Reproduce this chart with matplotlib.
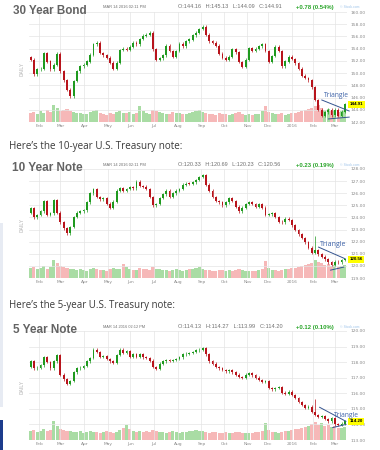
import numpy as np
import pandas as pd
import matplotlib
matplotlib.use('Agg')
import matplotlib.pyplot as plt
import matplotlib.transforms as mtransforms
from matplotlib.patches import Rectangle
from pandas.tseries.holiday import USFederalHolidayCalendar
from pandas.tseries.offsets import CustomBusinessDay

# ---------------- data ----------------
start_date = '2015-01-21'
end_date = '2016-03-14'

bond30_open0 = 152.6
bond30_close = [152.2, 149.8, 150.6, 150.7, 153.3, 151.9, 150.6, 151.4, 153.2, 150.3,
                148.8, 147.3, 146.2, 148.7, 150.3, 151.1, 151.4, 151.9, 153.0, 154.7,
                155.0, 153.3, 152.9, 152.5, 151.7, 150.7, 151.7, 153.8, 154.0, 153.8,
                154.3, 155.0, 154.7, 155.6, 156.1, 156.3, 156.6, 153.9, 152.2, 152.4,
                152.9, 154.5, 153.6, 152.7, 153.6, 154.8, 154.4, 155.2, 155.5, 156.2,
                156.6, 157.2, 157.6, 156.3, 155.2, 155.0, 154.5, 153.2, 152.5, 152.2,
                152.7, 153.9, 153.4, 151.8, 151.0, 152.2, 154.1, 153.6, 154.0, 154.4,
                154.7, 153.6, 151.8, 152.8, 154.3, 153.6, 151.1, 151.9, 152.7, 152.3,
                151.6, 150.7, 149.6, 149.2, 148.8, 147.7, 145.6, 144.0, 143.0, 143.6,
                144.0, 143.1, 144.0, 143.0, 143.7, 144.91]
bond30_vol = [45, 50, 40, 55, 48, 60, 52, 85, 70, 55,
              60, 65, 58, 50, 45, 48, 42, 40, 50, 55,
              60, 45, 40, 38, 45, 42, 50, 55, 48, 45,
              50, 42, 48, 80, 55, 45, 40, 60, 55, 50,
              45, 40, 42, 50, 45, 48, 40, 42, 45, 50,
              55, 60, 50, 45, 42, 40, 38, 45, 40, 42,
              38, 40, 45, 50, 42, 38, 40, 36, 40, 42,
              55, 80, 50, 45, 42, 40, 45, 38, 42, 45,
              48, 50, 55, 60, 65, 70, 80, 85, 70, 60,
              65, 55, 60, 50, 55, 60]
bond30_ticks = [142, 144, 146, 148, 150, 152, 154, 156, 158, 160]
bond30_spikes = {}

note10_open0 = 124.4
note10_close = [124.75, 124.0, 124.2, 124.5, 125.35, 124.2, 124.35, 125.4, 124.4, 123.6,
                123.1, 122.7, 123.2, 124.05, 124.4, 124.5, 124.6, 125.25, 126.0, 126.35,
                125.7, 125.5, 125.6, 125.15, 124.8, 125.3, 126.2, 126.4, 126.2, 126.35,
                126.5, 126.4, 126.95, 126.6, 126.55, 126.35, 125.7, 125.0, 125.1, 125.6,
                125.9, 126.2, 125.7, 126.0, 126.2, 126.35, 126.7, 126.8, 126.75, 126.9,
                127.1, 127.35, 127.5, 126.7, 126.2, 125.7, 125.35, 125.25, 125.0, 125.25,
                125.6, 125.35, 124.9, 124.5, 124.8, 125.1, 125.25, 125.1, 124.9, 125.1,
                124.8, 124.2, 124.25, 124.35, 124.05, 123.65, 123.6, 123.9, 123.8, 123.35,
                122.95, 122.6, 122.3, 121.95, 121.5, 121.1, 121.3, 120.95, 120.75, 120.55,
                120.3, 120.1, 120.35, 120.3, 120.5, 120.56]
note10_vol = [50, 55, 45, 50, 60, 48, 55, 95, 75, 60,
              55, 50, 45, 48, 42, 45, 40, 38, 45, 50,
              48, 42, 40, 38, 45, 50, 45, 48, 70, 55,
              45, 40, 42, 50, 48, 45, 40, 55, 48, 45,
              42, 40, 38, 42, 45, 40, 38, 42, 45, 48,
              50, 55, 48, 42, 40, 38, 36, 40, 42, 38,
              40, 38, 42, 45, 40, 36, 38, 35, 38, 40,
              45, 85, 50, 42, 40, 38, 42, 45, 48, 50,
              52, 55, 60, 65, 70, 75, 95, 80, 75, 65,
              70, 60, 68, 55, 60, 65]
note10_ticks = [119, 120, 121, 122, 123, 124, 125, 126, 127, 128]
note10_spikes = {86: 122.5}

note5_open0 = 117.7
note5_close = [118.05, 117.6, 117.65, 117.8, 118.3, 118.0, 117.6, 118.05, 118.45, 117.2,
               116.9, 116.6, 116.8, 117.35, 117.6, 117.65, 117.75, 118.05, 118.25, 118.8,
               118.65, 118.35, 118.4, 118.2, 118.05, 117.95, 118.45, 118.8, 118.6, 118.7,
               118.35, 118.5, 118.35, 118.5, 118.3, 118.25, 118.1, 117.7, 117.55, 117.9,
               118.05, 118.15, 118.1, 118.15, 118.2, 118.3, 118.5, 118.55, 118.6, 118.65,
               118.75, 118.8, 118.9, 118.5, 118.05, 117.9, 117.7, 117.6, 117.5, 117.4,
               117.5, 117.35, 117.2, 117.05, 117.0, 117.2, 117.3, 117.15, 117.0, 116.85,
               116.75, 116.8, 116.35, 116.25, 116.35, 116.4, 116.05, 115.95, 116.1, 115.9,
               115.7, 115.45, 115.25, 115.05, 115.15, 114.8, 114.6, 114.5, 114.55, 114.35,
               114.2, 114.4, 114.0, 113.95, 114.05, 114.2]
note5_vol = [45, 50, 42, 48, 55, 45, 52, 100, 70, 55,
             50, 45, 48, 42, 40, 45, 38, 40, 45, 42,
             40, 38, 42, 45, 40, 38, 42, 50, 60, 75,
             55, 45, 42, 48, 40, 45, 40, 50, 45, 42,
             40, 38, 42, 45, 40, 38, 42, 40, 45, 48,
             50, 48, 45, 40, 38, 42, 40, 38, 36, 40,
             38, 36, 40, 42, 38, 36, 35, 38, 40, 42,
             48, 85, 50, 42, 40, 38, 42, 45, 48, 52,
             55, 58, 62, 68, 72, 80, 90, 78, 85, 70,
             75, 65, 70, 60, 62, 68]
note5_ticks = [113, 114, 115, 116, 117, 118, 119, 120]
note5_spikes = {86: 115.65}

titles = ["30 Year Bond", "10 Year Note", "5 Year Note"]
stamps = ["MAR 14 2016 02:11 PM", "MAR 14 2016 02:11 PM", "MAR 14 2016 02:12 PM"]
ohlc_texts = ["O:144.16   H:145.13   L:144.09   C:144.91",
              "O:120.33   H:120.69   L:120.23   C:120.56",
              "O:114.13   H:114.27   L:113.99   C:114.20"]
changes = ["+0.78 (0.54%)", "+0.23 (0.19%)", "+0.12 (0.10%)"]
sentences = ["Here\u2019s the 10-year U.S. Treasury note:",
             "Here\u2019s the 5-year U.S. Treasury note:"]

# triangle annotations: (date, price) pairs
tri30 = dict(upper=[('2016-02-11', 145.6), ('2016-03-18', 143.8)],
             lower=[('2016-02-22', 142.5), ('2016-03-18', 142.8)],
             label=('2016-02-16', 146.4))
tri10 = dict(upper=[('2016-02-08', 121.55), ('2016-03-14', 120.6)],
             lower=[('2016-02-24', 119.65), ('2016-03-11', 119.9)],
             label=('2016-02-09', 121.75))
tri5 = dict(upper=[('2016-02-09', 115.1), ('2016-03-15', 114.2)],
            lower=[('2016-02-26', 113.8), ('2016-03-15', 114.0)],
            label=('2016-02-29', 114.6))

# ---------------- layout ----------------
W, H = 380, 450
fig = plt.figure(figsize=(W / 100, H / 100), dpi=100)
fig.patch.set_facecolor('white')
renderer = fig.canvas.get_renderer()


def fx(px):
    return px / W


def fy(py):
    return 1 - py / H


def fit_text(s, x0, x1, yc, family, weight='normal', color='#333333'):
    t = fig.text(fx(x0), fy(yc), s, fontsize=10, family=family, fontweight=weight,
                 color=color, ha='left', va='center')
    w = t.get_window_extent(renderer).width
    t.set_fontsize(10 * (x1 - x0) / w)
    return t


bday = CustomBusinessDay(calendar=USFederalHolidayCalendar())
cal = pd.date_range(start_date, '2016-03-31', freq=bday)
n_days = int(cal.searchsorted(pd.Timestamp(end_date))) + 1
days = cal[:n_days]
periods = days.to_period('M')
month_pos, month_lab = [], []
for i in range(1, n_days):
    if periods[i] != periods[i - 1]:
        month_pos.append(i)
        month_lab.append('2016' if days[i].month == 1 else days[i].strftime('%b'))


def tpos(d):
    return float(cal.searchsorted(pd.Timestamp(d)))


UP, DOWN = '#1f9a1f', '#b8141c'
VUP, VDOWN = '#a9dca4', '#f6b8b8'
TRI = '#34548f'

panels = [
    dict(open0=bond30_open0, close=bond30_close, vol=bond30_vol, ticks=bond30_ticks,
         spikes=bond30_spikes, tri=tri30, top=12, bottom=122, pad=0.22,
         title_x=(13, 87), title_y=11.5, head_y=7, tri_x=(323, 348)),
    dict(open0=note10_open0, close=note10_close, vol=note10_vol, ticks=note10_ticks,
         spikes=note10_spikes, tri=tri10, top=169, bottom=278, pad=0.11,
         title_x=(12, 82), title_y=168, head_y=165, tri_x=(319, 345)),
    dict(open0=note5_open0, close=note5_close, vol=note5_vol, ticks=note5_ticks,
         spikes=note5_spikes, tri=tri5, top=331, bottom=440, pad=0.08,
         title_x=(13, 77), title_y=330, head_y=327, tri_x=(333, 358)),
]

left_px, right_px = 29, 347

# page decorations on the left edge
fig.add_artist(Rectangle((0, fy(407)), fx(2.5), (407 - 223) / H, transform=fig.transFigure,
                         facecolor='#e7ebf3', edgecolor='none'))
fig.add_artist(Rectangle((0, fy(450)), fx(3), (450 - 420) / H, transform=fig.transFigure,
                         facecolor='#1d3c8c', edgecolor='none'))

for p_i, P in enumerate(panels):
    rect = [fx(left_px), fy(P['bottom']), (right_px - left_px) / W, (P['bottom'] - P['top']) / H]
    closes = np.array(P['close'], dtype=float)
    opens = np.concatenate([[P['open0']], closes[:-1]])
    n = len(closes)
    pos = np.linspace(0, n_days - 1, n)
    step = pos[1] - pos[0]
    up = closes >= opens
    highs = np.maximum(opens, closes) + P['pad']
    lows = np.minimum(opens, closes) - P['pad']
    for k, v in P['spikes'].items():
        highs[k] = v
    xlim = (-1.5, n_days + 1.0)
    ylim = (P['ticks'][0], P['ticks'][-1])

    # volume (behind)
    axv = fig.add_axes(rect)
    axv.set_xlim(*xlim)
    axv.set_ylim(0, 560)
    axv.axis('off')
    axv.bar(pos, P['vol'], width=step * 0.92, color=[VUP if u else VDOWN for u in up],
            edgecolor='none')

    # price axis
    ax = fig.add_axes(rect)
    ax.patch.set_visible(False)
    ax.set_xlim(*xlim)
    ax.set_ylim(*ylim)
    for s in ax.spines.values():
        s.set_visible(False)
    ax.set_axisbelow(True)
    ax.grid(True, color='#e4e4e4', lw=0.5)
    ax.yaxis.tick_right()
    ax.set_yticks(P['ticks'])
    ax.set_yticklabels([f"{t:.2f}" for t in P['ticks']])
    ax.set_xticks(month_pos)
    ax.set_xticklabels(month_lab)
    ax.tick_params(axis='y', length=0, pad=2.2, labelsize=3.2, labelcolor='#8a8a8a')
    ax.tick_params(axis='x', length=0, pad=1.2, labelsize=3.2, labelcolor='#8a8a8a')

    ax.vlines(pos, lows, highs, colors=[UP if u else DOWN for u in up], lw=0.5, zorder=3)
    body_bottom = np.minimum(opens, closes)
    body_h = np.maximum(np.abs(closes - opens), (ylim[1] - ylim[0]) * 0.006)
    ax.bar(pos, body_h, bottom=body_bottom, width=step * 0.55,
           color=[UP if u else DOWN for u in up], edgecolor='none', zorder=4)

    # last price label
    trans = mtransforms.blended_transform_factory(ax.transAxes, ax.transData)
    ax.text(1.0 + 2.5 / (right_px - left_px), closes[-1], f"{closes[-1]:.2f}", transform=trans,
            fontsize=3.2, fontweight='bold', color='black', ha='left', va='center',
            family='Liberation Sans',
            bbox=dict(boxstyle='square,pad=0.35', facecolor='#ffff00', edgecolor='none'),
            zorder=6, clip_on=False)

    # triangle annotation
    tri = P['tri']
    for key in ('upper', 'lower'):
        (d0, p0), (d1, p1) = tri[key]
        ax.plot([tpos(d0), tpos(d1)], [p0, p1], color=TRI, lw=0.7, clip_on=False, zorder=5)
    ld, lp = tri['label']
    tt = ax.text(tpos(ld), lp, "Triangle", fontsize=10, family='Open Sans', color='#3d62a8',
                 ha='left', va='center', clip_on=False, zorder=6)
    w = tt.get_window_extent(renderer).width
    tt.set_fontsize(10 * (P['tri_x'][1] - P['tri_x'][0]) / w)

    # DAILY label
    fig.text(fx(22), fy((P['top'] + P['bottom']) / 2 + 2), "DAILY", rotation=90, fontsize=3.4,
             fontweight='bold', color='#c8c8c8', ha='center', va='center', family='Liberation Sans')

    # title & header
    fit_text(titles[p_i], P['title_x'][0], P['title_x'][1], P['title_y'], 'Liberation Sans',
             weight='bold', color='#636363')
    hy = P['head_y']
    fit_text(stamps[p_i], 103, 145, hy, 'Liberation Sans', color='#707070')
    fit_text(ohlc_texts[p_i], 178, 280, hy, 'Liberation Sans', color='#707070')
    fit_text(changes[p_i], 296, 334, hy, 'Liberation Sans', weight='bold', color='#2aa52a')
    fit_text("\u00a9 Stock.com", 340, 359, hy, 'Liberation Sans', color='#9cc3ea')

# sentences between charts
fit_text(sentences[0], 9, 182, 146, 'Open Sans', color='#3a3a3a')
fit_text(sentences[1], 9, 174, 305.5, 'Open Sans', color='#3a3a3a')

fig.savefig('out.png', dpi=100, facecolor='white')
